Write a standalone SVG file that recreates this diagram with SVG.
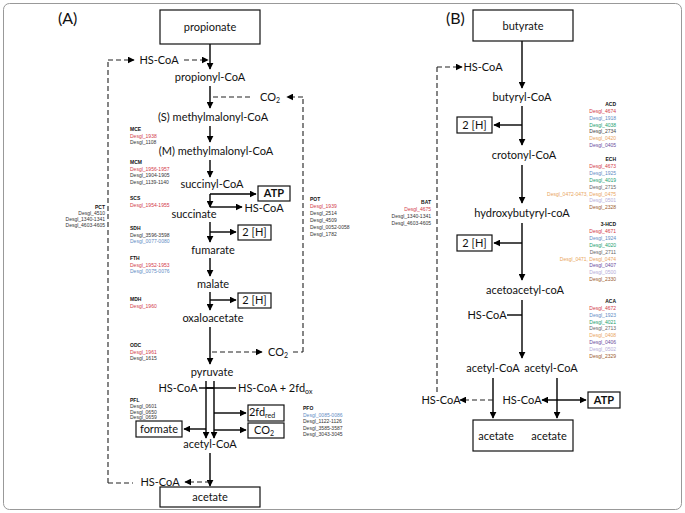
<svg xmlns="http://www.w3.org/2000/svg" width="685" height="513" viewBox="0 0 685 513">
<defs>
<marker id="ah" viewBox="0 0 10 10" refX="9" refY="5" markerWidth="7" markerHeight="7" markerUnits="userSpaceOnUse" orient="auto"><path d="M0,0 L10,5 L0,10 z" fill="#000"/></marker>
<style>
.m{font-family:Lato,"Open Sans","Liberation Sans",sans-serif;font-size:11px;fill:#111;text-anchor:middle}
.big{font-family:Lato,"Liberation Sans",sans-serif;font-size:16px;fill:#111}
.box{fill:#fff;stroke:#111;stroke-width:1.2}
.ln{fill:none;stroke:#000;stroke-width:1.4}
.ar{fill:none;stroke:#000;stroke-width:1.4;marker-end:url(#ah)}
.ds{fill:none;stroke:#222;stroke-width:1.1;stroke-dasharray:5,3}
.da{fill:none;stroke:#222;stroke-width:1.1;stroke-dasharray:5,3;marker-end:url(#ah)}
.g{font-family:"Liberation Sans",Arial,sans-serif;font-size:5px;fill:#333}
.h{font-family:"Liberation Sans",Arial,sans-serif;font-size:5px;fill:#111;font-weight:bold}
.e{text-anchor:end}
.r{fill:#d23a48}.b{fill:#5f8cc4}.gr{fill:#21a06e}.k{fill:#444}.o{fill:#e9a45c}.p{fill:#6a4b9c}.l{fill:#b4acd8}.br{fill:#9b5a2c}.gy{fill:#666}
</style>
</defs>
<rect x="3.5" y="3.5" width="678" height="506" rx="6" fill="#fff" stroke="#999" stroke-width="1"/>
<text class="big" x="58" y="24">(A)</text>
<text class="big" x="446" y="24">(B)</text>

<g id="connectors">
<path class="ar" d="M210,44 V69"/>
<path class="da" d="M184,60 H208"/>
<path class="ds" d="M108,483 V60"/>
<path class="da" d="M108,60 H134"/>
<path class="ar" d="M210,86 V108"/>
<path class="ds" d="M213,97 H252"/>
<path class="ds" d="M303,352 V97"/>
<path class="da" d="M303,97 H287"/>
<path class="ar" d="M210,126 V142"/>
<path class="ar" d="M210,160 V177"/>
<path class="ar" d="M210,194 V207"/>
<path class="ar" d="M210,194 H256"/>
<path class="ar" d="M210,207 H242"/>
<path class="ar" d="M210,222 V242"/>
<path class="ar" d="M210,232 H236"/>
<path class="ar" d="M210,258 V276"/>
<path class="ar" d="M210,292 V310"/>
<path class="ar" d="M210,300 H236"/>
<path class="ar" d="M210,327 V364"/>
<path class="da" d="M212,352 H262"/>
<path class="ds" d="M293,352 H303"/>
<path class="ar" d="M206,381 V438"/>
<path class="ar" d="M214,381 V438"/>
<path class="ln" d="M199,388 H214"/>
<path class="ln" d="M206,388 H236"/>
<path class="ar" d="M214,413 H246"/>
<path class="ar" d="M214,430 H246"/>
<path class="ar" d="M206,429 H184"/>
<path class="ar" d="M210,453 V486"/>
<path class="da" d="M210,482 H185"/>
<path class="ds" d="M108,483 H133"/>
<path class="ar" d="M522,40 V88"/>
<path class="ds" d="M437,392 V67"/>
<path class="da" d="M437,67 H462"/>
<path class="ar" d="M522,106 V145"/>
<path class="ar" d="M522,125 H494"/>
<path class="ar" d="M522,165 V203"/>
<path class="ar" d="M522,223 V280"/>
<path class="ar" d="M522,243 H494"/>
<path class="ar" d="M522,300 V358"/>
<path class="ln" d="M507,315 H522"/>
<path class="ar" d="M493,378 V418"/>
<path class="ar" d="M557,378 V418"/>
<path class="da" d="M493,400 H460"/>
<path class="ar" d="M557,400 H542"/>
<path class="ar" d="M557,400 H586"/>
</g>

<g id="propionate"><rect class="box" x="160" y="10" width="100" height="34"/><text class="m" x="210" y="31">propionate</text></g>
<g id="propionyl-CoA"><text class="m" x="210" y="81">propionyl-CoA</text></g>
<g id="hscoa-a1"><text class="m" x="159" y="64">HS-CoA</text></g>
<g id="co2-a1"><text class="m" x="270" y="101">CO<tspan font-size="7" dy="2">2</tspan></text></g>
<g id="s-methylmalonyl"><text class="m" x="213" y="121">(S) methylmalonyl-CoA</text></g>
<g id="m-methylmalonyl"><text class="m" x="216" y="155">(M) methylmalonyl-CoA</text></g>
<g id="succinyl-CoA"><text class="m" x="212" y="188">succinyl-CoA</text></g>
<g id="atp-a"><rect class="box" x="258" y="186" width="32" height="15"/><text class="m" x="274" y="197" font-weight="bold">ATP</text></g>
<g id="hscoa-a2"><text class="m" x="264" y="212">HS-CoA</text></g>
<g id="succinate"><text class="m" x="194" y="218">succinate</text></g>
<g id="fumarate"><text class="m" x="213" y="254">fumarate</text></g>
<g id="h2-a1"><rect class="box" x="238" y="225" width="33" height="15"/><text class="m" x="254.5" y="236">2 [H]</text></g>
<g id="malate"><text class="m" x="213" y="288">malate</text></g>
<g id="h2-a2"><rect class="box" x="238" y="293" width="33" height="15"/><text class="m" x="254.5" y="304">2 [H]</text></g>
<g id="oxaloacetate"><text class="m" x="213" y="322">oxaloacetate</text></g>
<g id="co2-a2"><text class="m" x="278" y="356">CO<tspan font-size="7" dy="2">2</tspan></text></g>
<g id="pyruvate"><text class="m" x="212" y="376">pyruvate</text></g>
<g id="hscoa-a3"><text class="m" x="178" y="392">HS-CoA</text></g>
<g id="hscoa-fdox"><text class="m" x="238" y="392" style="text-anchor:start">HS-CoA + 2fd<tspan font-size="7" dy="2">ox</tspan></text></g>
<g id="fdred"><rect class="box" x="248" y="405" width="36" height="16"/><text class="m" x="262" y="416">2fd<tspan font-size="7" dy="2">red</tspan></text></g>
<g id="co2-a3"><rect class="box" x="248" y="423" width="36" height="15"/><text class="m" x="264" y="434">CO<tspan font-size="7" dy="2">2</tspan></text></g>
<g id="formate"><rect class="box" x="136" y="421" width="46" height="16"/><text class="m" x="159" y="432.5">formate</text></g>
<g id="acetyl-CoA-a"><text class="m" x="210" y="448">acetyl-CoA</text></g>
<g id="hscoa-a4"><text class="m" x="160" y="486">HS-CoA</text></g>
<g id="acetate-a"><rect class="box" x="160" y="487" width="100" height="20"/><text class="m" x="210" y="501">acetate</text></g>

<g id="label-MCE"><text class="h" x="130" y="131">MCE</text><text class="g r" x="130" y="137.5">Desgl_1938</text><text class="g" x="130" y="144">Desgl_1108</text></g>
<g id="label-MCM"><text class="h" x="130" y="164">MCM</text><text class="g r" x="130" y="170.5">Desgl_1956-1957</text><text class="g" x="130" y="177">Desgl_1904-1905</text><text class="g" x="130" y="183.5">Desgl_1139-1140</text></g>
<g id="label-SCS"><text class="h" x="130" y="200">SCS</text><text class="g r" x="130" y="206.5">Desgl_1954-1955</text></g>
<g id="label-SDH"><text class="h" x="130" y="230">SDH</text><text class="g" x="130" y="236.5">Desgl_3596-3598</text><text class="g b" x="130" y="243">Desgl_0077-0080</text></g>
<g id="label-FTH"><text class="h" x="130" y="260">FTH</text><text class="g r" x="130" y="266.5">Desgl_1952-1953</text><text class="g b" x="130" y="273">Desgl_0075-0076</text></g>
<g id="label-MDH"><text class="h" x="130" y="301">MDH</text><text class="g r" x="130" y="307.5">Desgl_1960</text></g>
<g id="label-ODC"><text class="h" x="130" y="347">ODC</text><text class="g r" x="130" y="353.5">Desgl_1961</text><text class="g" x="130" y="360">Desgl_1615</text></g>
<g id="label-PFL"><text class="h" x="130" y="402">PFL</text><text class="g" x="130" y="408">Desgl_0601</text><text class="g" x="130" y="413.5">Desgl_0650</text><text class="g" x="130" y="419">Desgl_0659</text></g>
<g id="label-PCT"><text class="h e" x="105" y="209">PCT</text><text class="g e" x="105" y="215">Desgl_4510</text><text class="g e" x="105" y="221">Desgl_1340-1341</text><text class="g e" x="105" y="227">Desgl_4603-4605</text></g>
<g id="label-POT"><text class="h" x="310" y="201">POT</text><text class="g r" x="310" y="208">Desgl_1939</text><text class="g" x="310" y="215">Desgl_2514</text><text class="g" x="310" y="222">Desgl_4509</text><text class="g" x="310" y="229">Desgl_0052-0058</text><text class="g" x="310" y="236">Desgl_1782</text></g>
<g id="label-PFO"><text class="h" x="303" y="410">PFO</text><text class="g b" x="303" y="416.5">Desgl_0085-0086</text><text class="g" x="303" y="423">Desgl_1122-1126</text><text class="g" x="303" y="429.5">Desgl_3585-3587</text><text class="g" x="303" y="436">Desgl_3043-3045</text></g>

<g id="butyrate"><rect class="box" x="473" y="10" width="100" height="31"/><text class="m" x="523" y="30">butyrate</text></g>
<g id="hscoa-b1"><text class="m" x="483" y="71">HS-CoA</text></g>
<g id="butyryl-CoA"><text class="m" x="522" y="101">butyryl-CoA</text></g>
<g id="h2-b1"><rect class="box" x="457" y="117" width="35" height="16"/><text class="m" x="474.5" y="129">2 [H]</text></g>
<g id="crotonyl-CoA"><text class="m" x="524" y="159">crotonyl-CoA</text></g>
<g id="hydroxybutyryl-coA"><text class="m" x="522" y="217">hydroxybutyryl-coA</text></g>
<g id="h2-b2"><rect class="box" x="457" y="235" width="35" height="16"/><text class="m" x="474.5" y="247">2 [H]</text></g>
<g id="acetoacetyl-coA"><text class="m" x="525" y="294">acetoacetyl-coA</text></g>
<g id="hscoa-b2"><text class="m" x="487" y="319">HS-CoA</text></g>
<g id="acetyl-CoA-b1"><text class="m" x="493" y="372">acetyl-CoA</text></g>
<g id="acetyl-CoA-b2"><text class="m" x="551" y="372">acetyl-CoA</text></g>
<g id="hscoa-b3"><text class="m" x="441" y="404">HS-CoA</text></g>
<g id="hscoa-b4"><text class="m" x="522" y="404">HS-CoA</text></g>
<g id="atp-b"><rect class="box" x="588" y="392" width="32" height="16"/><text class="m" x="604" y="404" font-weight="bold">ATP</text></g>
<g id="acetate-b"><rect class="box" x="473" y="420" width="100" height="31"/><text class="m" x="496" y="440">acetate</text><text class="m" x="549" y="440">acetate</text></g>

<g id="label-BAT"><text class="h e" x="431" y="204">BAT</text><text class="g e r" x="431" y="211">Desgl_4675</text><text class="g e" x="431" y="218">Desgl_1340-1341</text><text class="g e" x="431" y="225">Desgl_4603-4605</text></g>
<g id="label-ACD"><text class="h e" x="616" y="106">ACD</text><text class="g e r" x="616" y="113">Desgl_4674</text><text class="g e b" x="616" y="120">Desgl_1918</text><text class="g e gr" x="616" y="127">Desgl_4038</text><text class="g e k" x="616" y="133">Desgl_2734</text><text class="g e o" x="616" y="140">Desgl_0420</text><text class="g e p" x="616" y="147">Desgl_0405</text></g>
<g id="label-ECH"><text class="h e" x="616" y="161">ECH</text><text class="g e r" x="616" y="168">Desgl_4673</text><text class="g e b" x="616" y="175">Desgl_1925</text><text class="g e gr" x="616" y="182">Desgl_4019</text><text class="g e gy" x="616" y="189">Desgl_2715</text><text class="g e o" x="616" y="196">Desgl_0472-0473, Desgl_0475</text><text class="g e l" x="616" y="202">Desgl_0501</text><text class="g e br" x="616" y="209">Desgl_2328</text></g>
<g id="label-3HCD"><text class="h e" x="616" y="226">3-HCD</text><text class="g e r" x="616" y="233">Desgl_4671</text><text class="g e b" x="616" y="240">Desgl_1924</text><text class="g e gr" x="616" y="247">Desgl_4020</text><text class="g e gy" x="616" y="254">Desgl_2711</text><text class="g e o" x="616" y="261">Desgl_0471, Desgl_0474</text><text class="g e p" x="616" y="267">Desgl_0407</text><text class="g e l" x="616" y="274">Desgl_0500</text><text class="g e br" x="616" y="281">Desgl_2330</text></g>
<g id="label-ACA"><text class="h e" x="616" y="303">ACA</text><text class="g e r" x="616" y="310">Desgl_4672</text><text class="g e b" x="616" y="317">Desgl_1923</text><text class="g e gr" x="616" y="324">Desgl_4021</text><text class="g e gy" x="616" y="330">Desgl_2713</text><text class="g e o" x="616" y="337">Desgl_0408</text><text class="g e p" x="616" y="344">Desgl_0406</text><text class="g e l" x="616" y="351">Desgl_0502</text><text class="g e br" x="616" y="358">Desgl_2329</text></g>
</svg>
